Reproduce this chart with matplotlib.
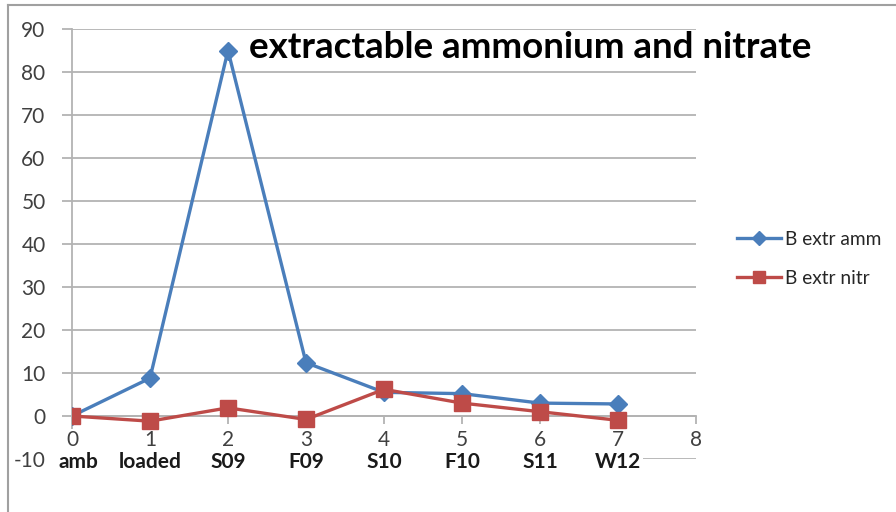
import matplotlib
matplotlib.use("Agg")
import matplotlib.pyplot as plt
from matplotlib.patches import Rectangle
from matplotlib.lines import Line2D

plt.rcParams['font.family'] = ['Lato', 'DejaVu Sans']
plt.rcParams['axes.unicode_minus'] = False

# Sampling periods and extractable nitrogen values
x_pos = [0, 1, 2, 3, 4, 5, 6, 7]
periods = ["amb", "loaded", "S09", "F09", "S10", "F10", "S11", "W12"]
extr_amm = [0.0, 8.8, 85.0, 12.4, 5.5, 5.2, 3.0, 2.8]
extr_nitr = [0.0, -1.2, 1.9, -0.8, 6.2, 3.0, 1.0, -1.0]

BLUE = "#4A7EBB"
RED = "#BE4B48"
GRID = "#b3b3b3"

fig = plt.figure(figsize=(8.96, 5.12), dpi=100)
ax = fig.add_axes([72 / 896, 1 - 459 / 512, 624 / 896, 430 / 512])

ax.plot(x_pos, extr_amm, color=BLUE, lw=2.4, marker="D", ms=9,
        mfc=BLUE, mec=BLUE, label="B extr amm", zorder=4)
ax.plot(x_pos, extr_nitr, color=RED, lw=2.4, marker="s", ms=11,
        mfc=RED, mec=RED, label="B extr nitr", zorder=5)

ax.set_xlim(0, 8)
ax.set_ylim(-10, 90)
ax.set_xticks(range(0, 9))
ax.set_yticks(range(-10, 91, 10))

ax.yaxis.grid(True, color=GRID, lw=1.3)
ax.set_axisbelow(True)
for s in ["top", "right"]:
    ax.spines[s].set_visible(False)
ax.spines["bottom"].set_position(("data", 0))
ax.spines["bottom"].set_color(GRID)
ax.spines["bottom"].set_linewidth(1.3)
ax.spines["left"].set_color(GRID)
ax.spines["left"].set_linewidth(1.3)

ax.tick_params(axis="x", direction="out", length=6, width=1.3, color=GRID,
               labelsize=15, labelcolor="#404040", pad=4)
ax.tick_params(axis="y", direction="out", length=7, width=1.3, color=GRID,
               labelsize=15, labelcolor="#404040", pad=12)
ax.patch.set_visible(False)

# white band behind the period labels
band = Rectangle((-0.12, -11), 7.44, 8, transform=ax.transData,
                 facecolor="white", edgecolor="none", zorder=2.6, clip_on=False)
ax.add_patch(band)
ax.xaxis.set_zorder(3)

for xi, lab in zip(x_pos, periods):
    ax.text(xi + (0.08 if xi == 0 else 0), -10.6, lab, ha="center", va="center",
            fontsize=15, fontweight="bold", color="#1a1a1a", zorder=6)

fig.text(530 / 896, 1 - 47 / 512, "extractable ammonium and nitrate",
         ha="center", va="center", fontsize=26.5, fontweight="bold", color="black")

handles = [
    Line2D([], [], color=BLUE, lw=2.4, marker="D", ms=7, mfc=BLUE, mec=BLUE),
    Line2D([], [], color=RED, lw=2.4, marker="s", ms=9, mfc=RED, mec=RED),
]
fig.legend(handles, ["B extr amm", "B extr nitr"], loc="center left",
           bbox_to_anchor=(720 / 896, 1 - 259 / 512), frameon=False,
           fontsize=13.8, handlelength=2.3, handletextpad=0.2,
           labelspacing=1.15, labelcolor="#262626")

# chart border
fig.add_artist(Line2D([8 / 896, 8 / 896], [0, 1 - 5 / 512],
                      transform=fig.transFigure, color="#a0a0a0", lw=1.5))
fig.add_artist(Line2D([8 / 896, 1], [1 - 5 / 512, 1 - 5 / 512],
                      transform=fig.transFigure, color="#a0a0a0", lw=1.5))

fig.savefig("out.png", dpi=100, facecolor="white")
